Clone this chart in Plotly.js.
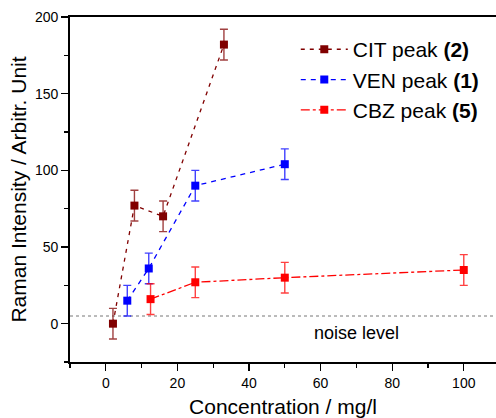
<!DOCTYPE html>
<html>
<head>
<meta charset="utf-8">
<script src="https://cdn.plot.ly/plotly-3.0.1.min.js"></script>
<style>
html, body { margin: 0; padding: 0; background: #fff; }
#chart { width: 496px; height: 418px; }
</style>
</head>
<body>
<div id="chart"></div>
<script>
// Data
const citX = [2, 8, 16, 33];
const citY = [0, 77, 70, 182];
const citErr = [10, 10, 10, 10];

const venX = [6, 12, 25, 50];
const venY = [15, 36, 90, 104];
const venErr = [10, 10, 10, 10];

const cbzX = [12.5, 25, 50, 100];
const cbzY = [16, 27, 30, 35];
const cbzErr = [10, 10, 10, 10];

const seriesNames = ['CIT peak <b>(2)</b>', 'VEN peak <b>(1)</b>', 'CBZ peak <b>(5)</b>'];
const noiseLevel = 5;
const noiseLabel = 'noise level';
const noiseLabelPos = [70, -6];

const FONT = '"Liberation Sans", Arial, Helvetica, sans-serif';

function series(x, y, err, name, color, errColor, dash) {
  return {
    type: 'scatter', mode: 'lines+markers', x: x, y: y, name: name,
    line: { color: color, width: 1.3, dash: dash },
    marker: { symbol: 'square', size: 8, color: color },
    error_y: { type: 'data', array: err, visible: true, color: errColor, thickness: 1.4, width: 4 }
  };
}

const traces = [
  series(citX, citY, citErr, seriesNames[0], '#800000', 'rgba(128,0,0,0.75)', '4px,5px'),
  series(venX, venY, venErr, seriesNames[1], '#0000ff', 'rgba(0,0,255,0.75)', '5px,5px'),
  series(cbzX, cbzY, cbzErr, seriesNames[2], '#ff0000', 'rgba(255,0,0,0.75)', 'dashdot')
];

const layout = {
  width: 496, height: 418,
  margin: { l: 70, r: 0, t: 17, b: 56 },
  paper_bgcolor: '#ffffff', plot_bgcolor: '#ffffff',
  font: { family: FONT, color: '#000', size: 14 },
  showlegend: true,
  legend: {
    x: 0.53, y: 0.965, xanchor: 'left', yanchor: 'top',
    font: { family: FONT, size: 21, color: '#000' },
    bgcolor: 'rgba(0,0,0,0)', itemwidth: 47
  },
  xaxis: {
    range: [-10, 109], tickmode: 'linear', tick0: 0, dtick: 20,
    ticks: 'outside', ticklen: 7, tickwidth: 1.3, tickcolor: '#000',
    minor: { dtick: 10, ticks: 'outside', ticklen: 4, tickwidth: 1.3, tickcolor: '#000' },
    showline: true, linecolor: '#000', linewidth: 1.8, mirror: true,
    showgrid: false, zeroline: false,
    tickfont: { family: FONT, size: 14, color: '#000' },
    title: { text: 'Concentration / mg/l', font: { family: FONT, size: 21, color: '#000' }, standoff: 10 }
  },
  yaxis: {
    range: [-25, 200], tickmode: 'linear', tick0: 0, dtick: 50,
    ticks: 'outside', ticklen: 7, tickwidth: 1.3, tickcolor: '#000',
    minor: { dtick: 25, ticks: 'outside', ticklen: 4, tickwidth: 1.3, tickcolor: '#000' },
    showline: true, linecolor: '#000', linewidth: 1.8,
    showgrid: false, zeroline: false,
    tickfont: { family: FONT, size: 14, color: '#000' },
    title: { text: 'Raman Intensity / Arbitr. Unit', font: { family: FONT, size: 21, color: '#000' }, standoff: 3 }
  },
  shapes: [{
    type: 'line', xref: 'paper', x0: 0, x1: 1, yref: 'y', y0: noiseLevel, y1: noiseLevel,
    line: { color: '#777777', width: 1, dash: 'dot' }, layer: 'below'
  }],
  annotations: [{
    x: noiseLabelPos[0], y: noiseLabelPos[1], xref: 'x', yref: 'y',
    text: noiseLabel, showarrow: false,
    font: { family: FONT, size: 18, color: '#000' }
  }]
};

Plotly.newPlot('chart', traces, layout, { staticPlot: true, displayModeBar: false });
</script>
</body>
</html>
